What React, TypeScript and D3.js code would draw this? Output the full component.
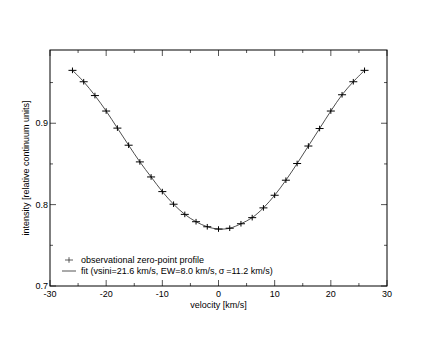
import * as d3 from "d3";
import { useEffect, useRef } from "react";

const velocity = [-26, -24, -22, -20, -18, -16, -14, -12, -10, -8, -6, -4, -2, 0, 2, 4, 6, 8, 10, 12, 14, 16, 18, 20, 22, 24, 26];
const intensity = [0.965, 0.951, 0.934, 0.915, 0.894, 0.873, 0.8525, 0.834, 0.816, 0.8005, 0.788, 0.779, 0.7728, 0.770, 0.771, 0.7765, 0.784, 0.796, 0.8115, 0.830, 0.8505, 0.872, 0.8935, 0.915, 0.935, 0.951, 0.965];
const xTicks = [-30, -20, -10, 0, 10, 20, 30];
const xMinor = [-25, -15, -5, 5, 15, 25];
const yTicks = [0.7, 0.8, 0.9];
const yMinor = [0.75, 0.85, 0.95];

const W = 436, H = 337;
const margin = { top: 50, right: 49, bottom: 51, left: 50 };

const App = () => {
    const ref = useRef(null);

    useEffect(() => {
        const svg = d3.select(ref.current);
        svg.selectAll("*").remove();

        const x = d3.scaleLinear().domain([-30, 30]).range([margin.left, W - margin.right]);
        const y = d3.scaleLinear().domain([0.7, 0.99]).range([H - margin.bottom, margin.top]);
        const [x0, x1] = x.range();
        const [y0, y1] = y.range();
        const font = "'Liberation Sans', Arial, sans-serif";
        const fs = "9px";

        // ticks inward on all sides
        const g = svg.append("g").attr("stroke", "#555").attr("stroke-width", 1);
        const tick = (xs, len) => xs.forEach(v => {
            g.append("line").attr("x1", x(v)).attr("x2", x(v)).attr("y1", y0).attr("y2", y0 - len);
            g.append("line").attr("x1", x(v)).attr("x2", x(v)).attr("y1", y1).attr("y2", y1 + len);
        });
        const tickY = (ys, len) => ys.forEach(v => {
            g.append("line").attr("y1", y(v)).attr("y2", y(v)).attr("x1", x0).attr("x2", x0 + len);
            g.append("line").attr("y1", y(v)).attr("y2", y(v)).attr("x1", x1).attr("x2", x1 - len);
        });
        tick(xTicks, 6);
        tick(xMinor, 3);
        tickY(yTicks, 6);
        tickY(yMinor, 3);

        svg.append("rect")
            .attr("x", x0).attr("y", y1)
            .attr("width", x1 - x0).attr("height", y0 - y1)
            .attr("fill", "none").attr("stroke", "#000").attr("stroke-width", 1);

        // tick labels
        svg.append("g").selectAll("text").data(xTicks).enter().append("text")
            .attr("x", d => x(d)).attr("y", y0 + 11)
            .attr("text-anchor", "middle")
            .style("font-family", font).style("font-size", fs)
            .text(d => d);
        svg.append("g").selectAll("text").data(yTicks).enter().append("text")
            .attr("x", x0 - 2).attr("y", d => y(d) + 3)
            .attr("text-anchor", "end")
            .style("font-family", font).style("font-size", fs)
            .text(d => d.toFixed(1));

        svg.append("text")
            .attr("x", (x0 + x1) / 2).attr("y", y0 + 22)
            .attr("text-anchor", "middle")
            .style("font-family", font).style("font-size", fs)
            .text("velocity [km/s]");
        svg.append("text")
            .attr("transform", `translate(${x0 - 21}, ${(y0 + y1) / 2}) rotate(-90)`)
            .attr("text-anchor", "middle")
            .style("font-family", font).style("font-size", fs)
            .text("intensity [relative continuum units]");

        // fit line
        const data = velocity.map((v, i) => [v, intensity[i]]);
        const line = d3.line().x(d => x(d[0])).y(d => y(d[1])).curve(d3.curveCatmullRom);
        svg.append("path").datum(data)
            .attr("d", line)
            .attr("fill", "none").attr("stroke", "#222").attr("stroke-width", 0.8);

        // points
        const plus = s => `M${-s},0H${s}M0,${-s * 0.7}V${s * 0.7}`;
        svg.append("g").selectAll("path").data(data).enter().append("path")
            .attr("transform", d => `translate(${x(d[0])},${y(d[1])})`)
            .attr("d", plus(4))
            .attr("stroke", "#000").attr("stroke-width", 1);

        // legend
        svg.append("path")
            .attr("transform", `translate(69, 260)`)
            .attr("d", plus(4))
            .attr("stroke", "#333").attr("stroke-width", 0.8);
        svg.append("text").attr("x", 81).attr("y", 263)
            .style("font-family", font).style("font-size", fs)
            .text("observational zero-point profile");
        svg.append("line").attr("x1", 62).attr("x2", 76).attr("y1", 271).attr("y2", 271)
            .attr("stroke", "#555").attr("stroke-width", 1);
        svg.append("text").attr("x", 81).attr("y", 274)
            .style("font-family", font).style("font-size", fs)
            .text("fit (vsini=21.6 km/s, EW=8.0 km/s,\u2009σ\u2009=11.2 km/s)");
    }, []);

    return (
        <svg ref={ref} width={W} height={H} style={{ position: "absolute", left: 0, top: 0, background: "#fff" }}></svg>
    );
};

export default App;
